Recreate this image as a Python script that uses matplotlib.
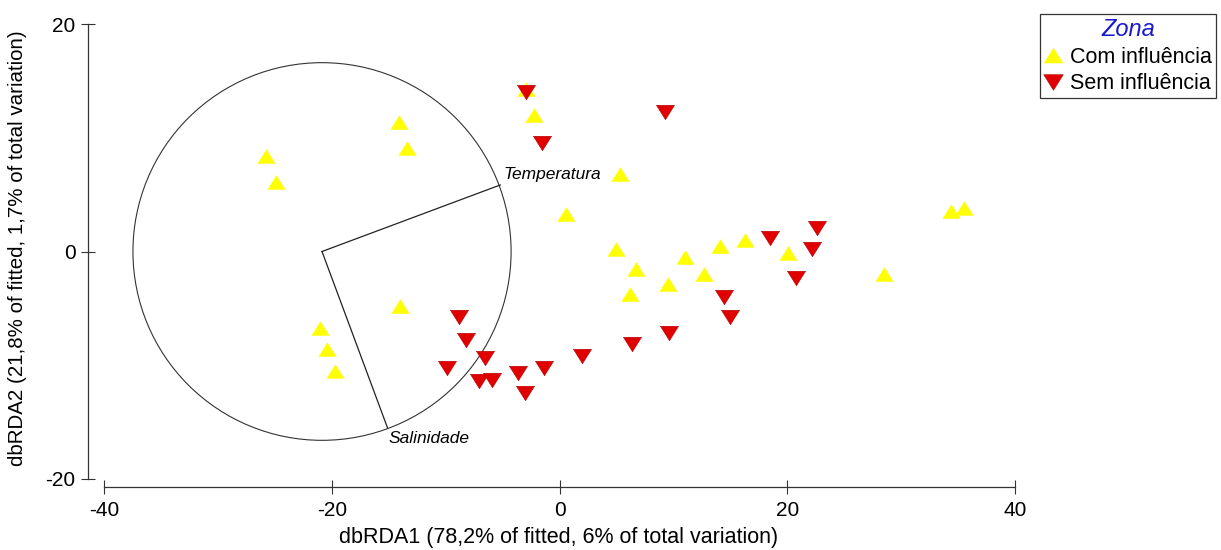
import matplotlib
matplotlib.use("Agg")
from matplotlib import pyplot as plt
from matplotlib.patches import Circle
from matplotlib.lines import Line2D

plt.rcParams['font.family'] = ['Liberation Sans', 'DejaVu Sans']
plt.rcParams['axes.unicode_minus'] = False

# dbRDA scores, "Com influência"
com_x = [-25.8, -24.9, -14.1, -13.4, -21.0, -20.4, -19.7, -14.0, -2.9, -2.2,
         5.3, 0.6, 5.0, 6.7, 6.2, 9.5, 11.0, 12.7, 14.1, 16.3, 20.1, 28.5, 34.4, 35.5]
com_y = [8.4, 6.1, 11.4, 9.1, -6.7, -8.6, -10.5, -4.8, 14.3, 12.0,
         6.8, 3.3, 0.2, -1.5, -3.7, -2.9, -0.5, -2.0, 0.5, 1.0, -0.1, -2.0, 3.6, 3.8]

# dbRDA scores, "Sem influência"
sem_x = [-2.9, -1.5, 9.3, -8.8, -8.2, -6.5, -9.9, -7.1, -5.9, -3.6, -3.0,
         -1.4, 2.0, 6.4, 9.6, 14.4, 15.0, 18.5, 22.2, 22.6, 20.8]
sem_y = [14.0, 9.5, 12.3, -5.8, -7.8, -9.4, -10.2, -11.4, -11.3, -10.7, -12.4,
         -10.2, -9.2, -8.1, -7.2, -4.0, -5.8, 1.2, 0.2, 2.1, -2.3]

# vector overlay (circle centre, radius and vector ends)
centre = (-20.85, 0.0)
radius = 16.6
vec_names = ['Temperatura', 'Salinidade']
vec_x = [-5.2, -15.1]
vec_y = [5.85, -15.5]

up = [(-1, -0.8), (1, -0.8), (0, 0.8), (-1, -0.8)]
down = [(-1, 0.8), (1, 0.8), (0, -0.8), (-1, 0.8)]

W, H = 1221, 550
fig = plt.figure(figsize=(W / 100, H / 100), dpi=100)
left, right, top, bottom = 88, 1030, 10, 487
aw, ah = right - left, bottom - top
ax = fig.add_axes([left / W, 1 - bottom / H, aw / W, ah / H])

sx = 11.39
sy = 11.375
x0, y0 = 559.5, 251.5
ax.set_xlim((left - x0) / sx, (right - x0) / sx)
ax.set_ylim((y0 - bottom) / sy, (y0 - top) / sy)

ax.add_patch(Circle(centre, radius, fill=False, lw=0.8, ec='#333333', zorder=1))
for vx, vy in zip(vec_x, vec_y):
    ax.plot([centre[0], vx], [centre[1], vy], color='#222222', lw=0.9, zorder=1)
ax.text(-4.96, 6.8, vec_names[0], style='italic', fontsize=12.5, va='center', ha='left')
ax.text(-15.05, -16.4, vec_names[1], style='italic', fontsize=12.5, va='center', ha='left')

ax.plot(com_x, com_y, ls='none', marker=up, ms=13, mfc='#ffff00', mec='#ffff00', mew=0, zorder=3)
ax.plot(sem_x, sem_y, ls='none', marker=down, ms=13, mfc='#e00000', mec='#b00000', mew=0.4, zorder=4)

ax.spines['top'].set_visible(False)
ax.spines['right'].set_visible(False)
ax.spines['left'].set_bounds(-20, 20)
ax.spines['bottom'].set_bounds(-40, 40)
for s in ['left', 'bottom']:
    ax.spines[s].set_color('#333333')
    ax.spines[s].set_linewidth(0.9)
ax.set_xticks([-40, -20, 0, 20, 40])
ax.set_yticks([-20, 0, 20])
ax.tick_params(direction='inout', length=10, width=0.8, color='#333333', labelsize=15)
ax.tick_params(axis='x', pad=5)
ax.tick_params(axis='y', pad=4)
ax.set_xlabel('dbRDA1 (78,2% of fitted, 6% of total variation)', fontsize=15.5)
ax.set_ylabel('dbRDA2 (21,8% of fitted, 1,7% of total variation)', fontsize=14.8)
ax.xaxis.set_label_coords(0.5, -(527 - bottom) / ah)
ax.yaxis.set_label_coords(-(left - 27) / aw, 0.5)

handles = [
    Line2D([], [], ls='none', marker=up, ms=14, mfc='#ffff00', mec='#ffff00', mew=0),
    Line2D([], [], ls='none', marker=down, ms=14, mfc='#e00000', mec='#b00000', mew=0.4),
]
leg = fig.legend(handles, ['Com influência', 'Sem influência'], title='Zona',
                 loc='upper left', bbox_to_anchor=(1040 / W, 1 - 14 / H),
                 fontsize=15.5, title_fontsize=17, frameon=True, fancybox=False,
                 borderpad=0.2, labelspacing=0.25, handlelength=0.8, handletextpad=0.4,
                 borderaxespad=0)
leg.get_frame().set_edgecolor('black')
leg.get_frame().set_linewidth(0.9)
leg.get_title().set_color('#1a1acc')
leg.get_title().set_style('italic')

fig.savefig('out.png', dpi=100)
